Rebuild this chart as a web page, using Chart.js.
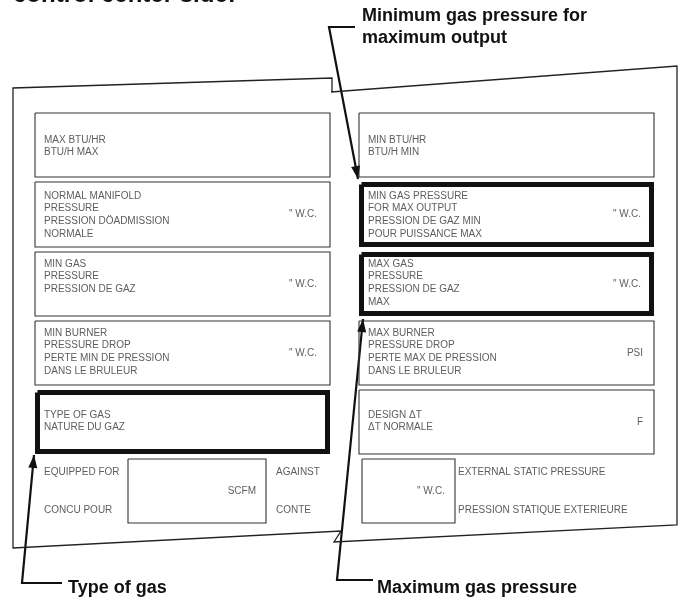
<!DOCTYPE html>
<html>
<head>
<meta charset="utf-8">
<script src="https://cdn.jsdelivr.net/npm/chart.js@4.4.1/dist/chart.umd.min.js"></script>
<style>
  html, body { margin: 0; padding: 0; background: #fff; }
  #wrap { width: 679px; height: 599px; }
</style>
</head>
<body>
<div id="wrap"><canvas id="plate" width="679" height="599"></canvas></div>
<script>
// rating plate texts
const leftLabels = [
    ["MAX BTU/HR", "BTU/H MAX"],
    ["NORMAL MANIFOLD", "PRESSURE", "PRESSION DÖADMISSION", "NORMALE"],
    ["MIN GAS", "PRESSURE", "PRESSION DE GAZ"],
    ["MIN BURNER", "PRESSURE DROP", "PERTE MIN DE PRESSION", "DANS LE BRULEUR"],
    ["TYPE OF GAS", "NATURE DU GAZ"]
];
const leftUnits = ["", "\" W.C.", "\" W.C.", "\" W.C.", ""];
const rightLabels = [
    ["MIN BTU/HR", "BTU/H MIN"],
    ["MIN GAS PRESSURE", "FOR MAX OUTPUT", "PRESSION DE GAZ MIN", "POUR PUISSANCE MAX"],
    ["MAX GAS", "PRESSURE", "PRESSION DE GAZ", "MAX"],
    ["MAX BURNER", "PRESSURE DROP", "PERTE MAX DE PRESSION", "DANS LE BRULEUR"],
    ["DESIGN ΔT", "ΔT NORMALE"]
];
const rightUnits = ["", "\" W.C.", "\" W.C.", "PSI", "F"];
const leftHighlighted = [false, false, false, false, true];
const rightHighlighted = [false, true, true, false, false];
const bottomLeftLabels = ["EQUIPPED FOR", "CONCU POUR", "SCFM", "AGAINST", "CONTE"];
const bottomRightLabels = ["EXTERNAL STATIC PRESSURE", "PRESSION STATIQUE EXTERIEURE", "\" W.C."];
const callouts = [
    ["Minimum gas pressure for", "maximum output"],
    ["Maximum gas pressure"],
    ["Type of gas"]
];
const pageTitle = "control center side:";

// layout (in canvas units, drawn through the x/y scales)
const rowTop = [113, 182, 252, 321, 390];
const rowBottom = [177, 247, 316, 385, 454];
const rowFirstLine = [140, 196, 264, 333, 415];
const leftCol = [35, 330];
const rightCol = [359, 654];
const outline = [[332, 92], [332, 78], [13, 88], [13, 548], [341, 531], [334, 542], [677, 525], [677, 66], [331, 92]];
const smallBoxes = [[128, 459, 266, 523], [362, 459, 455, 523]];
const leaders = [
    [[355, 27], [329, 27], [358, 179]],
    [[373, 580], [337, 580], [363, 319]],
    [[62, 583], [22, 583], [34, 455]]
];

const pts = arr => arr.map(p => ({x: p[0], y: p[1]}));
const rect = (x1, y1, x2, y2) => pts([[x1, y1], [x2, y1], [x2, y2], [x1, y2], [x1, y1]]);

const datasets = [];
datasets.push({data: pts(outline), borderColor: "#222", borderWidth: 1.3});

[[leftCol, leftHighlighted], [rightCol, rightHighlighted]].forEach(([col, hl]) => {
    rowTop.forEach((top, i) => {
        if (hl[i]) {
            datasets.push({data: rect(col[0] + 2.5, top + 2.5, col[1] - 2.5, rowBottom[i] - 2.5), borderColor: "#111", borderWidth: 5});
        } else {
            datasets.push({data: rect(col[0], top, col[1], rowBottom[i]), borderColor: "#333", borderWidth: 1.1});
        }
    });
});
smallBoxes.forEach(b => datasets.push({data: rect(...b), borderColor: "#333", borderWidth: 1.1}));
leaders.forEach(l => datasets.push({data: pts(l), borderColor: "#111", borderWidth: 2.2, borderJoinStyle: "miter"}));

datasets.forEach(d => {
    d.showLine = true;
    d.pointRadius = 0;
    d.tension = 0;
    d.clip = false;
    d.fill = false;
});

const plateText = {
    id: "plateText",
    afterDatasetsDraw(chart) {
        const ctx = chart.ctx;
        const sx = v => chart.scales.x.getPixelForValue(v);
        const sy = v => chart.scales.y.getPixelForValue(v);
        ctx.save();

        // arrow heads at the end of each leader
        ctx.fillStyle = "#111";
        leaders.forEach(l => {
            const a = l[l.length - 2], b = l[l.length - 1];
            const tx = sx(b[0]), ty = sy(b[1]);
            const ang = Math.atan2(ty - sy(a[1]), tx - sx(a[0]));
            const len = 13, half = 4.5;
            ctx.beginPath();
            ctx.moveTo(tx, ty);
            ctx.lineTo(tx - len * Math.cos(ang) + half * Math.sin(ang), ty - len * Math.sin(ang) - half * Math.cos(ang));
            ctx.lineTo(tx - len * Math.cos(ang) - half * Math.sin(ang), ty - len * Math.sin(ang) + half * Math.cos(ang));
            ctx.closePath();
            ctx.fill();
        });

        // plate labels
        ctx.fillStyle = "#5e5e5e";
        ctx.font = "10px 'Liberation Sans', Arial, sans-serif";
        ctx.textBaseline = "middle";
        [[leftCol, leftLabels, leftUnits], [rightCol, rightLabels, rightUnits]].forEach(([col, labels, units]) => {
            labels.forEach((lines, i) => {
                ctx.textAlign = "left";
                lines.forEach((t, j) => ctx.fillText(t, sx(col[0] + 9), sy(rowFirstLine[i] + j * 12.6)));
                if (units[i]) {
                    ctx.textAlign = "right";
                    const pad = units[i].indexOf("W.C.") >= 0 ? 13 : 11;
                    ctx.fillText(units[i], sx(col[1] - pad), sy((rowTop[i] + rowBottom[i]) / 2));
                }
            });
        });
        ctx.textAlign = "left";
        ctx.fillText(bottomLeftLabels[0], sx(44), sy(472));
        ctx.fillText(bottomLeftLabels[1], sx(44), sy(510));
        ctx.fillText(bottomLeftLabels[3], sx(276), sy(472));
        ctx.fillText(bottomLeftLabels[4], sx(276), sy(510));
        ctx.fillText(bottomRightLabels[0], sx(458), sy(472));
        ctx.fillText(bottomRightLabels[1], sx(458), sy(510));
        ctx.textAlign = "right";
        ctx.fillText(bottomLeftLabels[2], sx(256), sy(491));
        ctx.fillText(bottomRightLabels[2], sx(445), sy(491));

        // callouts
        ctx.fillStyle = "#111";
        ctx.textAlign = "left";
        ctx.textBaseline = "alphabetic";
        ctx.font = "bold 18px 'Liberation Sans', Arial, sans-serif";
        ctx.fillText(callouts[0][0], sx(362), sy(21));
        ctx.fillText(callouts[0][1], sx(362), sy(43));
        ctx.fillText(callouts[1][0], sx(377), sy(593));
        ctx.fillText(callouts[2][0], sx(68), sy(593));

        ctx.font = "bold 24px 'Liberation Sans', Arial, sans-serif";
        ctx.fillText(pageTitle, sx(13), sy(2));
        ctx.restore();
    }
};

new Chart(document.getElementById("plate"), {
    type: "scatter",
    data: {datasets: datasets},
    options: {
        responsive: false,
        animation: false,
        devicePixelRatio: 1,
        layout: {padding: 0},
        scales: {
            x: {type: "linear", min: 0, max: 679, display: false},
            y: {type: "linear", min: 0, max: 599, reverse: true, display: false}
        },
        plugins: {
            legend: {display: false},
            tooltip: {enabled: false}
        }
    },
    plugins: [plateText]
});
</script>
</body>
</html>
